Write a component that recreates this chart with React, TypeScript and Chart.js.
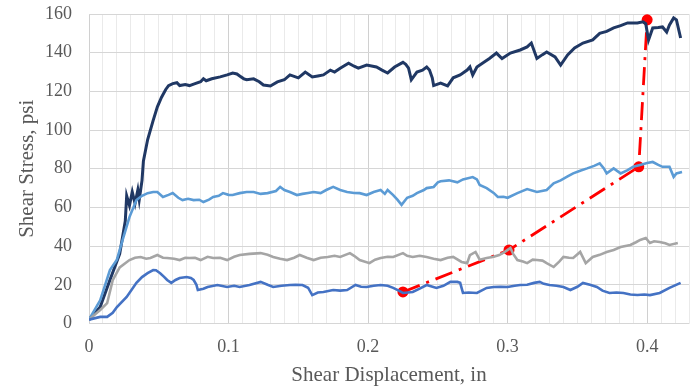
import React, { useEffect, useRef } from "react";
import { Chart, registerables } from "chart.js";

Chart.register(...registerables);

const xTickLabels = ["0", "0.1", "0.2", "0.3", "0.4"];
const yMax = 160;
const xMax = 0.43;
const xMinorStep = 0.01;

const navySeries: [number, number][] = [
  [0, 2], [0.008, 8.5], [0.015, 22.5], [0.022, 36], [0.026, 53], [0.027, 66], [0.029, 61], [0.031, 68], [0.033, 62], [0.035, 69], [0.036, 64], [0.038, 74], [0.039, 84], [0.042, 95], [0.046, 105], [0.049, 112], [0.052, 117], [0.055, 121], [0.057, 123], [0.06, 124], [0.063, 124.5], [0.065, 123], [0.069, 123.5], [0.072, 123], [0.076, 124], [0.08, 125], [0.082, 126.5], [0.084, 125.5], [0.088, 126.5], [0.094, 127.5], [0.099, 128.5], [0.103, 129.5], [0.106, 129], [0.108, 128], [0.111, 126.5], [0.113, 126], [0.118, 126.5], [0.122, 125], [0.125, 123.3], [0.13, 122.8], [0.135, 124.9], [0.14, 126], [0.144, 128.5], [0.15, 127], [0.155, 130], [0.16, 127.5], [0.164, 128], [0.168, 128.5], [0.173, 131], [0.176, 130], [0.18, 132], [0.186, 134.6], [0.19, 133], [0.193, 132], [0.199, 133.6], [0.206, 132.6], [0.21, 131], [0.214, 129.5], [0.219, 132.6], [0.225, 135], [0.227, 134], [0.229, 132], [0.231, 126], [0.235, 130], [0.239, 131], [0.242, 132.6], [0.244, 131], [0.246, 127], [0.247, 123], [0.252, 124.3], [0.257, 122.8], [0.261, 127], [0.266, 128.5], [0.268, 129.5], [0.271, 131], [0.273, 132.6], [0.275, 128.5], [0.278, 132.6], [0.283, 135], [0.287, 137], [0.292, 139.8], [0.296, 137], [0.302, 139.8], [0.309, 141.4], [0.314, 143], [0.317, 145], [0.321, 137], [0.325, 139], [0.328, 140.4], [0.334, 137.8], [0.338, 133.6], [0.343, 138.8], [0.348, 142.4], [0.354, 145], [0.361, 146.6], [0.366, 150], [0.371, 151], [0.376, 152.8], [0.381, 154], [0.386, 155.4], [0.393, 155.4], [0.397, 156], [0.399, 155], [0.401, 146.6], [0.404, 152.8], [0.408, 153], [0.411, 153.3], [0.414, 150.7], [0.416, 154.3], [0.419, 158], [0.421, 157], [0.424, 147.6],
];

const lightBlueSeries: [number, number][] = [
  [0, 2], [0.008, 12], [0.015, 27.6], [0.02, 33], [0.024, 43], [0.029, 55], [0.034, 63.8], [0.038, 66], [0.042, 67.4], [0.046, 68], [0.049, 68], [0.053, 65.4], [0.057, 66.5], [0.06, 67.4], [0.064, 65], [0.067, 63.8], [0.071, 64.5], [0.075, 63.8], [0.079, 64], [0.082, 62.8], [0.086, 64], [0.089, 65.4], [0.093, 66], [0.096, 67.4], [0.1, 66.5], [0.103, 66.4], [0.108, 67.4], [0.113, 68], [0.118, 68], [0.123, 67], [0.128, 67.4], [0.134, 68.5], [0.137, 70.6], [0.14, 69], [0.144, 68], [0.149, 66.4], [0.153, 67], [0.157, 67.5], [0.161, 68], [0.166, 67.4], [0.17, 69], [0.175, 70.6], [0.18, 69], [0.185, 68], [0.19, 67.5], [0.194, 67.4], [0.199, 66.4], [0.204, 68], [0.209, 69], [0.212, 67], [0.214, 69], [0.218, 66.4], [0.221, 64], [0.224, 61.3], [0.228, 65], [0.232, 66], [0.235, 67.4], [0.24, 69], [0.242, 70], [0.247, 70.6], [0.25, 73], [0.252, 73.5], [0.258, 74], [0.264, 73], [0.268, 74.5], [0.275, 75.7], [0.278, 74.5], [0.28, 71.6], [0.285, 70], [0.29, 67.5], [0.293, 65.4], [0.297, 65.5], [0.3, 65], [0.307, 67.4], [0.314, 69.5], [0.321, 68], [0.328, 69], [0.333, 72.5], [0.338, 74], [0.343, 76], [0.347, 77.6], [0.352, 79], [0.357, 80.2], [0.362, 81.5], [0.366, 82.8], [0.369, 80.2], [0.371, 77.6], [0.376, 80.2], [0.381, 77.6], [0.386, 79.3], [0.39, 81], [0.395, 82], [0.4, 83], [0.404, 83.5], [0.408, 82], [0.411, 81], [0.416, 81], [0.419, 75.8], [0.421, 77.6], [0.425, 78.3],
];

const graySeries: [number, number][] = [
  [0, 2], [0.008, 7], [0.013, 10.5], [0.017, 22.4], [0.022, 29], [0.029, 32.8], [0.033, 34], [0.037, 34.4], [0.041, 33.5], [0.044, 33.9], [0.049, 35.4], [0.053, 34], [0.056, 33.9], [0.061, 33.5], [0.065, 32.8], [0.069, 34], [0.072, 33.9], [0.076, 34], [0.08, 32.8], [0.085, 34.5], [0.089, 33.9], [0.094, 34], [0.099, 32.8], [0.104, 34.5], [0.108, 35.4], [0.115, 36], [0.123, 36.4], [0.128, 35.5], [0.132, 34.4], [0.137, 33.5], [0.142, 32.8], [0.147, 34], [0.151, 35.4], [0.156, 34], [0.161, 32.8], [0.166, 34], [0.171, 34.4], [0.176, 35], [0.18, 34.4], [0.187, 36.4], [0.19, 35], [0.194, 32.8], [0.201, 31.2], [0.205, 33], [0.209, 33.9], [0.214, 34.5], [0.218, 34.4], [0.225, 36.4], [0.228, 35], [0.232, 34.4], [0.237, 35], [0.242, 34.4], [0.247, 33.5], [0.252, 32.8], [0.257, 34], [0.261, 34.4], [0.267, 31.8], [0.271, 31.2], [0.273, 35.4], [0.277, 37], [0.28, 33], [0.285, 33.9], [0.29, 34.5], [0.294, 35.4], [0.298, 37], [0.302, 39], [0.304, 36], [0.307, 32.8], [0.311, 32], [0.314, 31.2], [0.318, 33], [0.321, 32.8], [0.325, 32.5], [0.328, 31.2], [0.333, 29.2], [0.337, 32], [0.34, 34.4], [0.344, 34], [0.347, 33.9], [0.352, 37], [0.356, 31.2], [0.361, 34.4], [0.366, 35.5], [0.371, 37], [0.376, 38], [0.381, 39.5], [0.388, 40.6], [0.392, 42], [0.395, 43.2], [0.399, 44.2], [0.402, 41.6], [0.405, 42.5], [0.409, 42.1], [0.413, 41.5], [0.416, 40.6], [0.422, 41.6],
];

const mediumBlueSeries: [number, number][] = [
  [0, 2], [0.008, 3.4], [0.013, 3.4], [0.017, 5.5], [0.02, 8.5], [0.027, 13.7], [0.034, 21], [0.038, 24], [0.042, 26], [0.046, 27.6], [0.048, 27.5], [0.051, 26], [0.054, 24], [0.056, 22.5], [0.059, 21], [0.062, 22.5], [0.065, 23.5], [0.07, 24], [0.073, 23.5], [0.075, 22.5], [0.077, 20], [0.078, 17.3], [0.082, 18], [0.085, 18.9], [0.092, 19.9], [0.099, 18.9], [0.104, 19.5], [0.108, 18.9], [0.115, 19.9], [0.123, 21.5], [0.128, 20], [0.132, 18.9], [0.138, 19.5], [0.144, 19.9], [0.148, 20], [0.153, 19.9], [0.157, 18.5], [0.16, 14.7], [0.164, 16], [0.168, 16.3], [0.175, 17.3], [0.18, 17], [0.185, 17.3], [0.191, 19.9], [0.195, 19], [0.199, 18.9], [0.204, 19.5], [0.209, 19.9], [0.214, 19.5], [0.218, 18.4], [0.222, 17], [0.225, 15.8], [0.232, 16.3], [0.237, 18], [0.242, 19.9], [0.249, 18.4], [0.254, 19.5], [0.259, 21.5], [0.264, 21.5], [0.266, 21], [0.268, 15.8], [0.272, 16], [0.278, 15.8], [0.285, 18.4], [0.29, 18.9], [0.295, 19], [0.3, 18.9], [0.305, 19.5], [0.309, 19.9], [0.314, 20], [0.319, 21], [0.323, 21.5], [0.326, 20.5], [0.33, 19.9], [0.335, 19.5], [0.34, 18.9], [0.345, 17.3], [0.35, 19], [0.354, 21], [0.359, 20], [0.364, 18.9], [0.368, 17], [0.373, 15.8], [0.378, 16], [0.383, 15.8], [0.388, 15], [0.393, 14.7], [0.398, 15], [0.402, 14.7], [0.409, 15.8], [0.416, 18.4], [0.424, 21],
];

const peakSeries: [number, number][] = [
  [0.225, 16.3], [0.301, 38], [0.394, 81], [0.4, 157],
];

const toPts = (s: [number, number][]) => s.map(([x, y]) => ({ x, y }));

const FONT = "'Liberation Serif', 'Times New Roman', serif";

export default function App() {
  const ref = useRef<HTMLCanvasElement | null>(null);

  useEffect(() => {
    document.body.style.margin = "0";
    const canvas = ref.current;
    if (!canvas) return;
    const line = (data: [number, number][], color: string, width: number) => ({
      data: toPts(data),
      borderColor: color,
      backgroundColor: color,
      borderWidth: width,
      pointRadius: 0,
      showLine: true,
      tension: 0,
      fill: false,
    });
    const chart = new Chart(canvas, {
      type: "scatter",
      data: {
        datasets: [
          line(mediumBlueSeries, "#4472C4", 2.6),
          line(graySeries, "#A5A5A5", 2.6),
          line(lightBlueSeries, "#5B9BD5", 2.6),
          line(navySeries, "#203864", 3),
          {
            data: toPts(peakSeries),
            borderColor: "#FF0000",
            backgroundColor: "#FF0000",
            borderWidth: 2.8,
            borderDash: [18, 7, 3, 7],
            pointRadius: 5.5,
            pointBorderWidth: 0,
            showLine: true,
            tension: 0,
            fill: false,
          },
        ],
      },
      options: {
        responsive: false,
        animation: false,
        layout: { padding: { top: 14, right: 8, left: 0, bottom: 0 } },
        plugins: { legend: { display: false }, tooltip: { enabled: false } },
        scales: {
          x: {
            type: "linear",
            min: 0,
            max: xMax,
            afterFit: (s: any) => {
              s.height = 64.5;
              s.paddingLeft = 0;
              s.paddingRight = 0;
            },
            afterBuildTicks: (s: any) => {
              const n = Math.round(xMax / xMinorStep);
              const t: any[] = [];
              for (let i = 0; i <= n; i++) t.push({ value: Math.min(xMax, i * xMinorStep) });
              s.ticks = t;
            },
            border: { display: false },
            grid: {
              drawTicks: false,
              lineWidth: 1,
              color: (c: any) => {
                const v = Math.round(c.tick.value * 100);
                return v % 10 === 0 ? "#D0D0D0" : "#EAEAEA";
              },
            },
            ticks: {
              autoSkip: false,
              maxRotation: 0,
              minRotation: 0,
              padding: 13,
              color: "#595959",
              font: { family: FONT, size: 18 },
              callback: (v: any) => {
                const k = Math.round(Number(v) * 100);
                return k % 10 === 0 ? xTickLabels[k / 10] : "";
              },
            },
            title: {
              display: true,
              text: "Shear Displacement, in",
              color: "#595959",
              font: { family: FONT, size: 21 },
              padding: { top: 0, bottom: 0 },
            },
          },
          y: {
            type: "linear",
            min: 0,
            max: yMax,
            afterFit: (s: any) => {
              s.width = 89;
              s.paddingTop = 0;
              s.paddingBottom = 0;
            },
            border: { display: false },
            grid: {
              drawTicks: false,
              lineWidth: 1,
              color: "#D6D6D6",
            },
            ticks: {
              stepSize: 20,
              padding: 17,
              color: "#595959",
              font: { family: FONT, size: 18 },
            },
            title: {
              display: true,
              text: "Shear Stress, psi",
              color: "#595959",
              font: { family: FONT, size: 21 },
              padding: { top: 15, bottom: 0 },
            },
          },
        },
      },
    } as any);
    return () => chart.destroy();
  }, []);

  return (
    <div style={{ width: 697, height: 388 }}>
      <canvas ref={ref} width={697} height={388} style={{ display: "block" }} />
    </div>
  );
}
